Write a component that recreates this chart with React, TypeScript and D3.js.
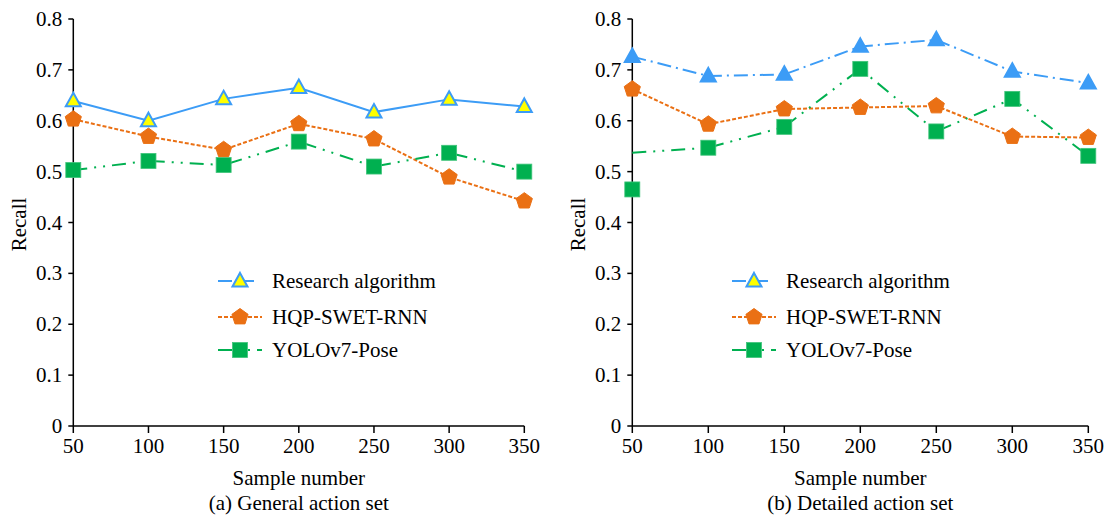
import React from "react";
import * as d3 from "d3";

const sampleNumbers = [50, 100, 150, 200, 250, 300, 350];
const yTicks = [0, 0.1, 0.2, 0.3, 0.4, 0.5, 0.6, 0.7, 0.8];
const yTickLabels = ["0", "0.1", "0.2", "0.3", "0.4", "0.5", "0.6", "0.7", "0.8"];
const seriesNames = ["Research algorithm", "HQP-SWET-RNN", "YOLOv7-Pose"];

// (a) General action set
const generalResearch = [0.639, 0.6, 0.643, 0.665, 0.617, 0.642, 0.628];
const generalHQP = [0.603, 0.569, 0.543, 0.594, 0.564, 0.489, 0.442];
const generalYOLO = [0.503, 0.521, 0.513, 0.559, 0.51, 0.537, 0.5];

// (b) Detailed action set
const detailedResearch = [0.726, 0.688, 0.691, 0.746, 0.759, 0.697, 0.674];
const detailedHQP = [0.662, 0.593, 0.623, 0.626, 0.629, 0.569, 0.567];
const detailedYOLO = [0.465, 0.547, 0.588, 0.702, 0.579, 0.643, 0.531];
// the connecting line in the reference starts above the first marker
const detailedYOLOLine = [0.537, 0.547, 0.588, 0.702, 0.579, 0.643, 0.531];

const BLUE = "#3c9cf6";
const ORANGE = "#ea7014";
const GREEN = "#00b050";
const YELLOW = "#ffff00";
const FONT = "'Liberation Serif', 'Times New Roman', Times, serif";

type Panel = {
  x0: number;
  x1: number;
  caption: string;
  research: number[];
  hqp: number[];
  yolo: number[];
  yoloLine: number[];
  researchDash: string;
  researchFill: string;
  legendX: number;
};

const panels: Panel[] = [
  {
    x0: 73.3,
    x1: 524.3,
    caption: "(a) General action set",
    research: generalResearch,
    hqp: generalHQP,
    yolo: generalYOLO,
    yoloLine: generalYOLO,
    researchDash: "none",
    researchFill: YELLOW,
    legendX: 218,
  },
  {
    x0: 632.3,
    x1: 1088.3,
    caption: "(b) Detailed action set",
    research: detailedResearch,
    hqp: detailedHQP,
    yolo: detailedYOLO,
    yoloLine: detailedYOLOLine,
    researchDash: "14 5 2 5",
    researchFill: BLUE,
    legendX: 732,
  },
];

const Y_TOP = 19;
const Y_BOTTOM = 426;

function triangle(cx: number, cy: number, s: number) {
  const h = s * 0.9;
  return `M${cx},${cy - h * 0.6}L${cx + s / 2},${cy + h * 0.4}L${cx - s / 2},${cy + h * 0.4}Z`;
}
function pentagon(cx: number, cy: number, r: number) {
  const pts = d3.range(5).map((i) => {
    const a = -Math.PI / 2 + (i * 2 * Math.PI) / 5;
    return [cx + r * Math.cos(a), cy + r * Math.sin(a)];
  });
  return "M" + pts.map((p) => p.join(",")).join("L") + "Z";
}

const Tri = ({ x, y, fill }: { x: number; y: number; fill: string }) => (
  <path d={triangle(x, y, 15)} fill={fill} stroke={BLUE} strokeWidth={2} strokeLinejoin="miter" />
);
const Pent = ({ x, y }: { x: number; y: number }) => (
  <path d={pentagon(x, y, 8.5)} fill={ORANGE} stroke={ORANGE} strokeWidth={1} />
);
const Sq = ({ x, y }: { x: number; y: number }) => (
  <rect x={x - 7.5} y={y - 7.5} width={15} height={15} fill={GREEN} stroke="#3fc47a" strokeWidth={0.8} />
);

function PanelView({ p }: { p: Panel }) {
  const x = d3.scaleLinear().domain([50, 350]).range([p.x0, p.x1]);
  const y = d3.scaleLinear().domain([0, 0.8]).range([Y_BOTTOM, Y_TOP]);
  const line = d3
    .line<number>()
    .x((_, i) => x(sampleNumbers[i]))
    .y((d) => y(d));
  const cx = (p.x0 + p.x1) / 2;
  const legendRows = [281, 317, 350];
  const lx = p.legendX;
  return (
    <g>
      {/* axes */}
      <line x1={p.x0} x2={p.x0} y1={Y_TOP} y2={Y_BOTTOM} stroke="#000" strokeWidth={1.5} />
      <line x1={p.x0} x2={p.x1} y1={Y_BOTTOM} y2={Y_BOTTOM} stroke="#000" strokeWidth={1.5} />
      {yTicks.map((t, i) => (
        <g key={t}>
          <line x1={p.x0 - 5} x2={p.x0} y1={y(t)} y2={y(t)} stroke="#000" strokeWidth={1.5} />
          <text x={p.x0 - 11} y={y(t) + 7} textAnchor="end" fontSize={21} fontFamily={FONT} fill="#000">
            {yTickLabels[i]}
          </text>
        </g>
      ))}
      {sampleNumbers.map((s) => (
        <g key={s}>
          <line x1={x(s)} x2={x(s)} y1={Y_BOTTOM} y2={Y_BOTTOM + 7} stroke="#000" strokeWidth={1.5} />
          <text x={x(s)} y={453} textAnchor="middle" fontSize={21} fontFamily={FONT} fill="#000">
            {s}
          </text>
        </g>
      ))}
      <text x={cx} y={485} textAnchor="middle" fontSize={21} fontFamily={FONT} fill="#000">
        Sample number
      </text>
      <text x={cx} y={510} textAnchor="middle" fontSize={21} fontFamily={FONT} fill="#000">
        {p.caption}
      </text>
      <text
        transform={`translate(${p.x0 - 47},${(Y_TOP + Y_BOTTOM) / 2 + 2}) rotate(-90)`}
        textAnchor="middle"
        fontSize={21}
        fontFamily={FONT}
        fill="#000"
      >
        Recall
      </text>

      {/* lines */}
      <path d={line(p.research) || ""} fill="none" stroke={BLUE} strokeWidth={2} strokeDasharray={p.researchDash} />
      <path d={line(p.hqp) || ""} fill="none" stroke={ORANGE} strokeWidth={2} strokeDasharray="4 2" />
      <path d={line(p.yoloLine) || ""} fill="none" stroke={GREEN} strokeWidth={2} strokeDasharray="14 7 2 7 2 7" />

      {/* markers */}
      {p.yolo.map((v, i) => (
        <Sq key={"s" + i} x={x(sampleNumbers[i])} y={y(v)} />
      ))}
      {p.hqp.map((v, i) => (
        <Pent key={"p" + i} x={x(sampleNumbers[i])} y={y(v)} />
      ))}
      {p.research.map((v, i) => (
        <Tri key={"t" + i} x={x(sampleNumbers[i])} y={y(v)} fill={p.researchFill} />
      ))}

      {/* legend */}
      <line x1={lx} x2={lx + 44} y1={legendRows[0]} y2={legendRows[0]} stroke={BLUE} strokeWidth={2} strokeDasharray="14 8" />
      <Tri x={lx + 22} y={legendRows[0]} fill={YELLOW} />
      <line x1={lx} x2={lx + 44} y1={legendRows[1]} y2={legendRows[1]} stroke={ORANGE} strokeWidth={2} strokeDasharray="4 2" />
      <Pent x={lx + 22} y={legendRows[1]} />
      <line x1={lx} x2={lx + 44} y1={legendRows[2]} y2={legendRows[2]} stroke={GREEN} strokeWidth={2} strokeDasharray="14 7 2 7 2 7" />
      <Sq x={lx + 22} y={legendRows[2]} />
      {seriesNames.map((n, i) => (
        <text key={n} x={lx + 54} y={legendRows[i] + 7} fontSize={21} fontFamily={FONT} fill="#000">
          {n}
        </text>
      ))}
    </g>
  );
}

export default function App() {
  return (
    <svg
      width={1105}
      height={516}
      style={{ position: "absolute", left: 0, top: 0, background: "#fff" }}
    >
      <rect width={1105} height={516} fill="#fff" />
      {panels.map((p) => (
        <PanelView key={p.caption} p={p} />
      ))}
    </svg>
  );
}
